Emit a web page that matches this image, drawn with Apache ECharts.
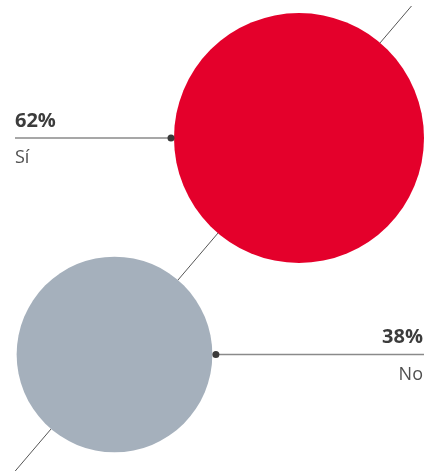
<!DOCTYPE html>
<html>
<head>
<meta charset="utf-8">
<script src="https://cdn.jsdelivr.net/npm/echarts@6/dist/echarts.min.js"></script>
<style>
html,body{margin:0;padding:0;background:#fff;}
#c{width:433px;height:472px;}
</style>
</head>
<body>
<div id="c"></div>
<script>
// Data
var categories = ['Sí', 'No'];
var values = [62, 38];
var valueLabels = ['62%', '38%'];

// Layout (pixel-like coordinate space of the hidden axes)
var W = 433, H = 472;
var centers = [[299, 138], [114.5, 354.5]];
var labelSide = ['left', 'right'];
var colors = ['#e4002b', '#a5b0bc'];
var sizeK = 31.75; // diameter = k * sqrt(value) (area proportional)

function diam(v) { return sizeK * Math.sqrt(v); }

var bubbleData = categories.map(function (c, i) {
  return { name: c, value: [centers[i][0], centers[i][1], values[i]], itemStyle: { color: colors[i] } };
});

// diagonal through both centres, extended
var p1 = centers[0], p0 = centers[1];
var dx = p1[0] - p0[0], dy = p1[1] - p0[1];
var yTop = 6, yBot = 471;
var tTop = (yTop - p1[1]) / dy, tBot = (yBot - p0[1]) / dy;
var diag = [[p1[0] + tTop * dx, yTop], [p0[0] + tBot * dx, yBot]];

var chart = echarts.init(document.getElementById('c'), null, { renderer: 'canvas' });
chart.setOption({
  animation: false,
  grid: { left: 0, right: 0, top: 0, bottom: 0 },
  xAxis: { type: 'value', min: 0, max: W, show: false },
  yAxis: { type: 'value', min: 0, max: H, inverse: true, show: false },
  series: [
    {
      type: 'line', data: diag, symbol: 'none', z: 1,
      lineStyle: { color: '#555', width: 1 }, silent: true
    },
    {
      type: 'scatter', z: 2, data: bubbleData,
      symbolSize: function (val) { return diam(val[2]); },
      itemStyle: { opacity: 1 }, silent: true
    },
    {
      type: 'custom', z: 3, silent: true,
      data: categories.map(function (c, i) { return [centers[i][0], centers[i][1], values[i]]; }),
      renderItem: function (params, api) {
        var i = params.dataIndex;
        var pt = api.coord([api.value(0), api.value(1)]);
        var r = diam(api.value(2)) / 2;
        var left = labelSide[i] === 'left';
        var edgeX = left ? api.coord([15, 0])[0] : api.coord([424, 0])[0];
        var dotX = left ? pt[0] - r - 3 : pt[0] + r + 3.5;
        var ly = pt[1];
        var textX = left ? edgeX : edgeX - 1;
        var align = left ? 'left' : 'right';
        return {
          type: 'group',
          children: [
            { type: 'line', shape: { x1: edgeX, y1: ly, x2: dotX, y2: ly },
              style: { stroke: '#8a8a8a', lineWidth: 1.5 } },
            { type: 'circle', shape: { cx: dotX, cy: ly, r: 3.5 }, style: { fill: '#3a3a3a' } },
            { type: 'text', style: { x: textX, y: ly - 17, text: valueLabels[i],
              font: 'bold 20px "Open Sans"', fill: '#3c3c3c', textAlign: align, textVerticalAlign: 'middle' } },
            { type: 'text', style: { x: textX, y: ly + 20, text: categories[i],
              font: '18px "Open Sans"', fill: '#505050', textAlign: align, textVerticalAlign: 'middle' } }
          ]
        };
      }
    }
  ]
});
</script>
</body>
</html>
